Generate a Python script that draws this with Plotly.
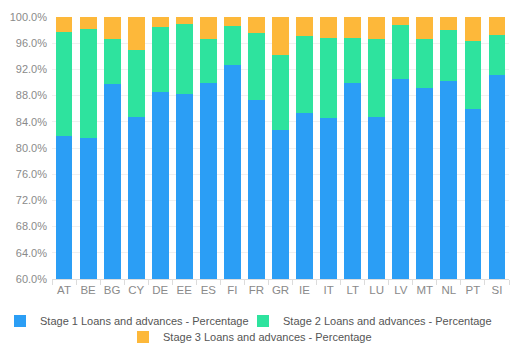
import plotly.graph_objects as go

countries = ["AT", "BE", "BG", "CY", "DE", "EE", "ES", "FI", "FR", "GR",
             "IE", "IT", "LT", "LU", "LV", "MT", "NL", "PT", "SI"]
stage1 = [81.8, 81.5, 89.8, 84.8, 88.5, 88.3, 89.9, 92.7, 87.4, 82.7,
          85.3, 84.6, 89.9, 84.7, 90.5, 89.1, 90.2, 85.9, 91.1]
stage2 = [15.9, 16.6, 6.9, 10.2, 9.9, 10.7, 6.8, 5.9, 10.1, 11.5,
          11.8, 12.2, 6.9, 12.0, 8.3, 7.5, 7.8, 10.4, 6.2]
stage3 = [2.3, 1.9, 3.3, 5.0, 1.6, 1.0, 3.3, 1.4, 2.5, 5.8,
          2.9, 3.2, 3.2, 3.3, 1.2, 3.4, 2.0, 3.7, 2.7]

series = [
    ("Stage 1 Loans and advances - Percentage", stage1, "#2b9ef5", "legend"),
    ("Stage 2 Loans and advances - Percentage", stage2, "#2ee39e", "legend2"),
    ("Stage 3 Loans and advances - Percentage", stage3, "#fdb83a", "legend3"),
]

fig = go.Figure()
for name, vals, color, leg in series:
    fig.add_trace(go.Bar(x=countries, y=vals, name=name, marker_color=color,
                         marker_line_width=0, legend=leg))

legend_font = dict(family="Liberation Sans, Arial, sans-serif", size=11, color="#555555")


def legend_box(x_px, y_px):
    # one legend per series so the rows can be placed like the original
    return dict(orientation="h", xref="container", yref="container",
                x=x_px / 516, xanchor="left", y=1 - y_px / 347, yanchor="middle",
                font=legend_font, itemwidth=30, bgcolor="rgba(0,0,0,0)")


fig.update_layout(
    barmode="stack", bargap=0.3,
    width=516, height=347,
    margin=dict(l=52, r=7, t=17, b=68, autoexpand=False),
    plot_bgcolor="white", paper_bgcolor="white",
    font=dict(family="Liberation Sans, Arial, sans-serif", size=11, color="#8a8a8a"),
    showlegend=True,
    legend=legend_box(0, 321),
    legend2=legend_box(243, 321),
    legend3=legend_box(123, 337),
)
fig.update_yaxes(range=[60, 100], dtick=4, tick0=60, ticksuffix="%", tickformat=".1f",
                 showgrid=True, gridcolor="#f0f0f0", zeroline=False,
                 showline=False, ticks="", ticklabelstandoff=4)
fig.update_xaxes(showline=True, linecolor="#dcdcdc", ticks="outside",
                 tickson="boundaries", ticklen=5, tickcolor="#dcdcdc",
                 showgrid=False, tickangle=0, tickfont=dict(size=11.5))

fig.write_html("out.html", config={"displayModeBar": False},
               post_script="document.body.style.margin='0';")
